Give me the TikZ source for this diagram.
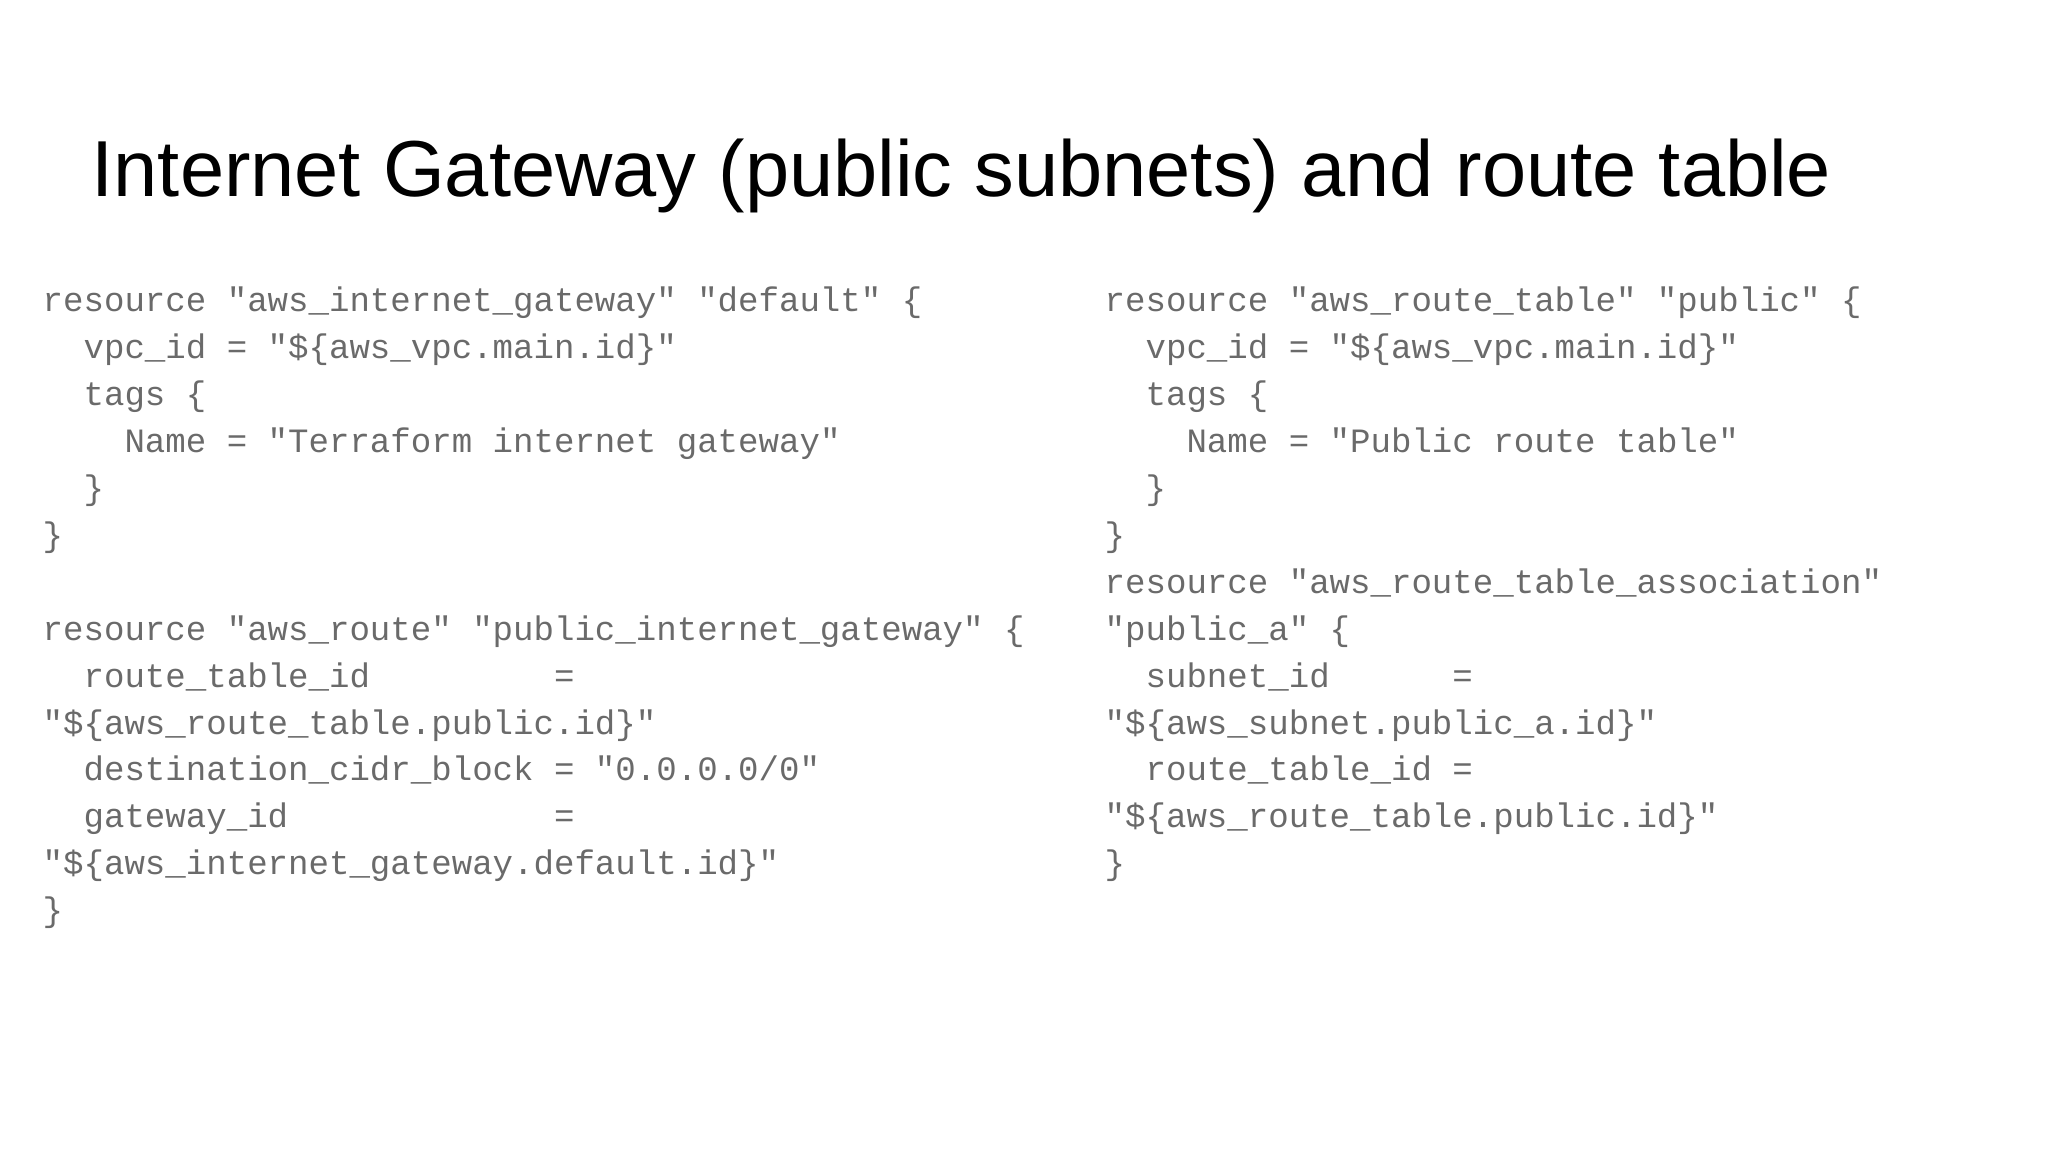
\documentclass[tikz,border=0pt]{standalone}
\usepackage{fontspec}
\newfontfamily\titlefont{Liberation Sans}
\newfontfamily\codefont{Liberation Mono}
\definecolor{codegrey}{HTML}{6A6A6A}
\begin{document}
\begin{tikzpicture}[x=1cm,y=1cm,
  codeline/.style={anchor=base west,inner sep=0pt,text=codegrey,font=\codefont\fontsize{9.7pt}{12pt}\selectfont}]
\useasboundingbox (0,0) rectangle (20.48,-11.52);
\node[anchor=base west,inner sep=0pt,font=\titlefont\fontsize{22.6pt}{28pt}\selectfont] (title) at (0.91,-1.97) {Internet Gateway (public subnets) and route table};
\def\ly#1{-3.12-0.469*#1}
\node[codeline] (l0) at (0.42,{\ly{0}}) {resource~"aws\_internet\_gateway"~"default"~\{};
\node[codeline] (l1) at (0.42,{\ly{1}}) {~~vpc\_id~=~"\$\{aws\_vpc.main.id\}"};
\node[codeline] (l2) at (0.42,{\ly{2}}) {~~tags~\{};
\node[codeline] (l3) at (0.42,{\ly{3}}) {~~~~Name~=~"Terraform~internet~gateway"};
\node[codeline] (l4) at (0.42,{\ly{4}}) {~~\}};
\node[codeline] (l5) at (0.42,{\ly{5}}) {\}};
\node[codeline] (l7) at (0.42,{\ly{7}}) {resource~"aws\_route"~"public\_internet\_gateway"~\{};
\node[codeline] (l8) at (0.42,{\ly{8}}) {~~route\_table\_id~~~~~~~~~=};
\node[codeline] (l9) at (0.42,{\ly{9}}) {"\$\{aws\_route\_table.public.id\}"};
\node[codeline] (l10) at (0.42,{\ly{10}}) {~~destination\_cidr\_block~=~"0.0.0.0/0"};
\node[codeline] (l11) at (0.42,{\ly{11}}) {~~gateway\_id~~~~~~~~~~~~~=};
\node[codeline] (l12) at (0.42,{\ly{12}}) {"\$\{aws\_internet\_gateway.default.id\}"};
\node[codeline] (l13) at (0.42,{\ly{13}}) {\}};
\node[codeline] (r0) at (11.04,{\ly{0}}) {resource~"aws\_route\_table"~"public"~\{};
\node[codeline] (r1) at (11.04,{\ly{1}}) {~~vpc\_id~=~"\$\{aws\_vpc.main.id\}"};
\node[codeline] (r2) at (11.04,{\ly{2}}) {~~tags~\{};
\node[codeline] (r3) at (11.04,{\ly{3}}) {~~~~Name~=~"Public~route~table"};
\node[codeline] (r4) at (11.04,{\ly{4}}) {~~\}};
\node[codeline] (r5) at (11.04,{\ly{5}}) {\}};
\node[codeline] (r6) at (11.04,{\ly{6}}) {resource~"aws\_route\_table\_association"};
\node[codeline] (r7) at (11.04,{\ly{7}}) {"public\_a"~\{};
\node[codeline] (r8) at (11.04,{\ly{8}}) {~~subnet\_id~~~~~~=};
\node[codeline] (r9) at (11.04,{\ly{9}}) {"\$\{aws\_subnet.public\_a.id\}"};
\node[codeline] (r10) at (11.04,{\ly{10}}) {~~route\_table\_id~=};
\node[codeline] (r11) at (11.04,{\ly{11}}) {"\$\{aws\_route\_table.public.id\}"};
\node[codeline] (r12) at (11.04,{\ly{12}}) {\}};
\end{tikzpicture}
\end{document}
